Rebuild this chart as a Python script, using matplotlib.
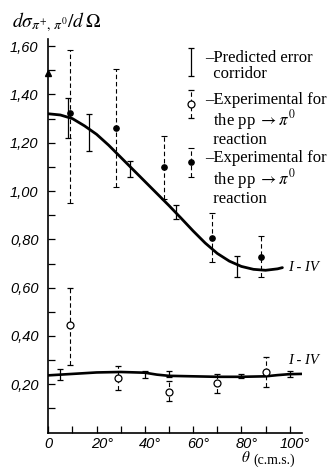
import matplotlib
matplotlib.use("Agg")
import matplotlib.pyplot as plt
import matplotlib.transforms as mtransforms
from matplotlib.container import ErrorbarContainer
from matplotlib.legend_handler import HandlerErrorbar
import numpy as np

plt.rcParams['mathtext.fontset'] = 'stix'

# ---------------- data ----------------
# theoretical curve I-IV, upper branch
theta_hi_curve = [0, 5, 10, 15, 20, 25, 30, 35, 40, 45, 50, 55, 60, 65, 70, 75, 80, 85, 90, 95, 97]
sigma_hi_curve = [1.32, 1.315, 1.30, 1.27, 1.235, 1.19, 1.14, 1.09, 1.04, 0.99, 0.94,
                  0.888, 0.835, 0.785, 0.742, 0.71, 0.688, 0.676, 0.672, 0.678, 0.683]
# theoretical curve I-IV, lower branch
theta_lo_curve = [0, 10, 20, 30, 40, 45, 50, 60, 70, 80, 90, 95, 100, 105]
sigma_lo_curve = [0.237, 0.243, 0.249, 0.251, 0.248, 0.24, 0.235, 0.233, 0.231, 0.231,
                  0.233, 0.238, 0.242, 0.243]

# predicted error corridor (upper branch)
theta_pred_hi = [8, 17, 34, 53, 78]
pred_hi_low = [1.219, 1.167, 1.06, 0.883, 0.646]
pred_hi_up = [1.384, 1.319, 1.126, 0.942, 0.731]
# predicted error corridor (lower branch)
theta_pred_lo = [5, 40, 50, 80, 100]
pred_lo_low = [0.218, 0.225, 0.229, 0.225, 0.230]
pred_lo_up = [0.263, 0.255, 0.254, 0.243, 0.254]

# experimental, filled points
theta_exp_hi = [9, 28, 48, 68, 88]
exp_hi_val = [1.322, 1.263, 1.099, 0.805, 0.728]
exp_hi_low = [0.95, 1.018, 0.966, 0.708, 0.643]
exp_hi_up = [1.584, 1.504, 1.228, 0.908, 0.814]

# experimental, open points
theta_exp_lo = [9, 29, 50, 70, 90]
exp_lo_val = [0.445, 0.225, 0.17, 0.204, 0.252]
exp_lo_low = [0.28, 0.176, 0.132, 0.165, 0.188]
exp_lo_up = [0.60, 0.277, 0.214, 0.241, 0.314]

ytick_values = [0.2, 0.4, 0.6, 0.8, 1.0, 1.2, 1.4, 1.6]
ytick_labels = ['0,20', '0,40', '0,60', '0,80', '1,00', '1,20', '1,40', '1,60']
xtick_values = [0, 20, 40, 60, 80, 100]
xtick_labels = ['0', '20°', '40°', '60°', '80°', '100°']

legend_labels = ['–Predicted error\n  corridor',
                 '–Experimental for\n  the pp $\\rightarrow\\pi^0$\n  reaction',
                 '–Experimental for\n  the pp $\\rightarrow\\pi^0$\n  reaction']
curve_label = 'I - IV'

# ---------------- figure ----------------
W, H = 331, 468
fig = plt.figure(figsize=(W / 100, H / 100), dpi=100)
ax = fig.add_axes([48.3 / W, 35.4 / H, 253.4 / W, 393.7 / H])
ax.set_xlim(0, 105)
ax.set_ylim(0, 1.63)

for s in ['top', 'right']:
    ax.spines[s].set_visible(False)
for s in ['left', 'bottom']:
    ax.spines[s].set_linewidth(1.2)

ax.plot(theta_hi_curve, sigma_hi_curve, color='black', lw=2.0, solid_capstyle='round')
ax.plot(theta_lo_curve, sigma_lo_curve, color='black', lw=1.9, solid_capstyle='round')


def mid_err(low, up):
    low = np.asarray(low); up = np.asarray(up)
    return (low + up) / 2, (up - low) / 2


m, e = mid_err(pred_hi_low, pred_hi_up)
pred_cont = ax.errorbar(theta_pred_hi, m, yerr=e, fmt='none', ecolor='black',
                        elinewidth=0.9, capsize=2.3, capthick=0.9)
m, e = mid_err(pred_lo_low, pred_lo_up)
ax.errorbar(theta_pred_lo, m, yerr=e, fmt='none', ecolor='black',
            elinewidth=0.9, capsize=2.3, capthick=0.9)

yl = np.asarray(exp_lo_val)
open_cont = ax.errorbar(theta_exp_lo, yl,
                        yerr=[yl - np.asarray(exp_lo_low), np.asarray(exp_lo_up) - yl],
                        fmt='o', ms=5, mfc='white', mec='black', mew=0.9,
                        ecolor='black', elinewidth=0.8, capsize=2.3, capthick=0.8)
open_cont[2][0].set_linestyle((0, (4, 2.5)))

yh = np.asarray(exp_hi_val)
fill_cont = ax.errorbar(theta_exp_hi, yh,
                        yerr=[yh - np.asarray(exp_hi_low), np.asarray(exp_hi_up) - yh],
                        fmt='o', ms=3.8, mfc='black', mec='black',
                        ecolor='black', elinewidth=0.8, capsize=2.3, capthick=0.8)
fill_cont[2][0].set_linestyle((0, (4, 2.5)))

# ticks
ax.set_yticks(ytick_values)
ax.set_yticklabels(ytick_labels)
ax.set_yticks(np.arange(0.1, 1.65, 0.2), minor=True)
ax.set_xticks(xtick_values)
ax.set_xticklabels(xtick_labels)
ax.set_xticks(np.arange(10, 101, 20), minor=True)
ax.tick_params(which='both', direction='in', length=5, width=0.9, color='black')
ax.tick_params(axis='y', pad=7)
ax.tick_params(axis='x', pad=3)
for lab in ax.get_yticklabels() + ax.get_xticklabels():
    lab.set_fontfamily('Liberation Sans')
    lab.set_fontstyle('italic')
    lab.set_fontsize(10.5)
off = mtransforms.ScaledTranslation(4 / 72, 0, fig.dpi_scale_trans)
for lab in ax.get_xticklabels()[1:]:
    lab.set_transform(lab.get_transform() + off)

# arrow on the ordinate
ax.plot([0], [1.49], marker='^', ms=4, color='black', clip_on=False,
        transform=ax.get_yaxis_transform())

# curve labels
ax.text(99.5, sigma_hi_curve[-1], curve_label, fontfamily='Liberation Serif', fontstyle='italic',
        fontsize=10.5, ha='left', va='center')
ax.text(99.5, 0.30, curve_label, fontfamily='Liberation Serif', fontstyle='italic',
        fontsize=10.5, ha='left', va='center')

# ordinate title
fig.text(12 / W, 1 - 22 / H, r'$d\sigma_{\pi^{+},\,\pi^{0}}/d\,\Omega$', fontsize=14,
         ha='left', va='center')

# abscissa title
fig.text(241 / W, 1 - 457 / H, r'$\theta$', fontsize=11, ha='left', va='center')
fig.text(253 / W, 1 - 460 / H, '(c.m.s.)', fontfamily='Liberation Serif', fontsize=10,
         ha='left', va='center')

# legend
hm = {ErrorbarContainer: HandlerErrorbar(xerr_size=0.5, yerr_size=0.85, numpoints=1)}
leg = ax.legend([pred_cont, open_cont, fill_cont], legend_labels,
                loc='upper left', bbox_to_anchor=(182.6 / W, 1 - 50 / H),
                bbox_transform=fig.transFigure, frameon=False, borderpad=0,
                borderaxespad=0, handlelength=1.0, handleheight=3.3,
                handletextpad=0.34, labelspacing=0.1, handler_map=hm,
                prop={'family': 'Liberation Serif', 'size': 12})
for t in leg.get_texts():
    t.set_linespacing(1.03)
try:
    for col in leg._legend_handle_box.get_children():
        for item in col.get_children():
            item.align = 'top'
except Exception:
    pass

fig.savefig('out.png', dpi=100)
